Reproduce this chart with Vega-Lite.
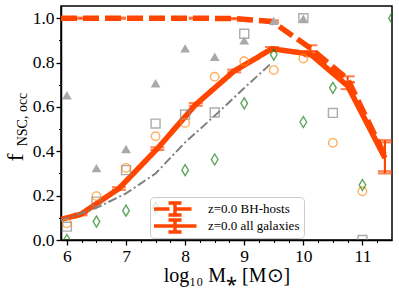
{
  "$schema": "https://vega.github.io/schema/vega-lite/v6.json",
  "width": 331,
  "height": 234,
  "autosize": {"type": "none"},
  "padding": {"left": 61, "top": 6, "right": 7, "bottom": 57},
  "datasets": {
    "sim": [
      {"x": 5.9, "y": 1.0, "s": "z=0.0 BH-hosts"},
      {"x": 6.23, "y": 1.0, "s": "z=0.0 BH-hosts", "lo": 0.997, "hi": 1.003},
      {"x": 6.88, "y": 1.0, "s": "z=0.0 BH-hosts", "lo": 0.997, "hi": 1.003},
      {"x": 7.53, "y": 1.0, "s": "z=0.0 BH-hosts", "lo": 0.997, "hi": 1.003},
      {"x": 8.18, "y": 1.0, "s": "z=0.0 BH-hosts", "lo": 0.997, "hi": 1.003},
      {"x": 8.83, "y": 0.998, "s": "z=0.0 BH-hosts", "lo": 0.995, "hi": 1.001},
      {"x": 9.47, "y": 0.985, "s": "z=0.0 BH-hosts", "lo": 0.98, "hi": 0.99},
      {"x": 10.12, "y": 0.865, "s": "z=0.0 BH-hosts", "lo": 0.852, "hi": 0.878},
      {"x": 10.75, "y": 0.725, "s": "z=0.0 BH-hosts", "lo": 0.712, "hi": 0.738},
      {"x": 11.38, "y": 0.38, "s": "z=0.0 BH-hosts", "lo": 0.31, "hi": 0.45},
      {"x": 5.9, "y": 0.093, "s": "z=0.0 all galaxies"},
      {"x": 6.23, "y": 0.115, "s": "z=0.0 all galaxies", "lo": 0.111, "hi": 0.119},
      {"x": 6.88, "y": 0.232, "s": "z=0.0 all galaxies", "lo": 0.226, "hi": 0.238},
      {"x": 7.53, "y": 0.412, "s": "z=0.0 all galaxies", "lo": 0.406, "hi": 0.418},
      {"x": 8.18, "y": 0.611, "s": "z=0.0 all galaxies", "lo": 0.605, "hi": 0.617},
      {"x": 8.83, "y": 0.762, "s": "z=0.0 all galaxies", "lo": 0.756, "hi": 0.768},
      {"x": 9.47, "y": 0.862, "s": "z=0.0 all galaxies", "lo": 0.854, "hi": 0.87},
      {"x": 10.12, "y": 0.838, "s": "z=0.0 all galaxies", "lo": 0.828, "hi": 0.848},
      {"x": 10.75, "y": 0.695, "s": "z=0.0 all galaxies", "lo": 0.68, "hi": 0.71},
      {"x": 11.38, "y": 0.37, "s": "z=0.0 all galaxies", "lo": 0.3, "hi": 0.44}
    ],
    "grey": [
      {"x": 5.9, "y": 0.088},
      {"x": 6.5, "y": 0.145},
      {"x": 7.0, "y": 0.21},
      {"x": 7.5, "y": 0.3},
      {"x": 8.0, "y": 0.44},
      {"x": 8.5, "y": 0.56},
      {"x": 9.0, "y": 0.685},
      {"x": 9.47, "y": 0.8}
    ],
    "obs": [
      {"x": 6.0, "y": 0.653, "k": "tri"},
      {"x": 6.5, "y": 0.324, "k": "tri"},
      {"x": 7.0, "y": 0.41, "k": "tri"},
      {"x": 7.5, "y": 0.707, "k": "tri"},
      {"x": 8.0, "y": 0.864, "k": "tri"},
      {"x": 8.5, "y": 0.826, "k": "tri"},
      {"x": 9.0, "y": 0.9, "k": "tri"},
      {"x": 9.5, "y": 0.988, "k": "tri"},
      {"x": 10.0, "y": 0.998, "k": "tri"},
      {"x": 6.0, "y": 0.06, "k": "sq"},
      {"x": 6.5, "y": 0.173, "k": "sq"},
      {"x": 7.0, "y": 0.315, "k": "sq"},
      {"x": 7.5, "y": 0.525, "k": "sq"},
      {"x": 8.0, "y": 0.566, "k": "sq"},
      {"x": 8.5, "y": 0.575, "k": "sq"},
      {"x": 9.0, "y": 0.93, "k": "sq"},
      {"x": 10.0, "y": 1.0, "k": "sq"},
      {"x": 10.5, "y": 0.573, "k": "sq"},
      {"x": 11.0, "y": 0.0, "k": "sq"},
      {"x": 6.0, "y": 0.075, "k": "circ"},
      {"x": 6.5, "y": 0.198, "k": "circ"},
      {"x": 7.0, "y": 0.325, "k": "circ"},
      {"x": 7.5, "y": 0.468, "k": "circ"},
      {"x": 8.0, "y": 0.528, "k": "circ"},
      {"x": 8.5, "y": 0.736, "k": "circ"},
      {"x": 9.0, "y": 0.806, "k": "circ"},
      {"x": 9.5, "y": 0.766, "k": "circ"},
      {"x": 10.0, "y": 0.818, "k": "circ"},
      {"x": 10.5, "y": 0.438, "k": "circ"},
      {"x": 11.0, "y": 0.22, "k": "circ"},
      {"x": 6.0, "y": 0.0, "k": "dia"},
      {"x": 6.5, "y": 0.083, "k": "dia"},
      {"x": 7.0, "y": 0.132, "k": "dia"},
      {"x": 7.5, "y": 0.145, "k": "dia"},
      {"x": 8.0, "y": 0.315, "k": "dia"},
      {"x": 8.5, "y": 0.363, "k": "dia"},
      {"x": 9.0, "y": 0.616, "k": "dia"},
      {"x": 9.5, "y": 0.836, "k": "dia"},
      {"x": 10.0, "y": 0.532, "k": "dia"},
      {"x": 10.5, "y": 0.686, "k": "dia"},
      {"x": 11.0, "y": 0.248, "k": "dia"},
      {"x": 11.5, "y": 1.0, "k": "dia"}
    ]
  },
  "layer": [
    {
      "data": {"name": "sim"},
      "mark": {"type": "line", "strokeWidth": 5.5, "color": "#ff4500", "clip": true},
      "encoding": {
        "x": {"field": "x", "type": "quantitative", "scale": {"domain": [5.9, 11.5], "nice": false, "zero": false}, "axis": null},
        "y": {"field": "y", "type": "quantitative", "scale": {"domain": [0, 1.055], "nice": false, "zero": false}, "axis": null},
        "strokeDash": {
          "field": "s", "type": "nominal",
          "scale": {"domain": ["z=0.0 BH-hosts", "z=0.0 all galaxies"], "range": [[16, 6], [1, 0]]},
          "legend": {
            "title": null,
            "orient": "none",
            "legendX": 89,
            "legendY": 191,
            "symbolType": "M-4.3,0H4.3M0,-1.2V1.2M-1.3,-1.2H1.3M-1.3,1.2H1.3",
            "symbolSize": 100,
            "symbolStrokeWidth": 3.5,
            "symbolStrokeColor": "#ff4500",
            "symbolFillColor": "transparent",
            "symbolOffset": 14,
            "clipHeight": 16,
            "labelFont": "Liberation Serif",
            "labelFontSize": 13,
            "labelColor": "black",
            "labelOffset": 26,
            "labelLimit": 300,
            "padding": 4,
            "rowPadding": 1,
            "fillColor": "rgba(255,255,255,0.8)",
            "strokeColor": "#cccccc",
            "cornerRadius": 4
          }
        },
        "order": {"field": "x", "type": "quantitative"}
      }
    },
    {
      "data": {"name": "sim"},
      "transform": [{"filter": "isValid(datum.lo)"}],
      "mark": {"type": "rule", "color": "#ff4500", "strokeWidth": 2},
      "encoding": {
        "x": {"field": "x", "type": "quantitative", "axis": null},
        "y": {"field": "lo", "type": "quantitative", "axis": null},
        "y2": {"field": "hi"}
      }
    },
    {
      "data": {"name": "sim"},
      "transform": [{"filter": "isValid(datum.lo)"}],
      "mark": {"type": "tick", "orient": "horizontal", "color": "#ff4500", "size": 14, "thickness": 2},
      "encoding": {
        "x": {"field": "x", "type": "quantitative", "axis": null},
        "y": {"field": "lo", "type": "quantitative", "axis": null}
      }
    },
    {
      "data": {"name": "sim"},
      "transform": [{"filter": "isValid(datum.lo)"}],
      "mark": {"type": "tick", "orient": "horizontal", "color": "#ff4500", "size": 14, "thickness": 2},
      "encoding": {
        "x": {"field": "x", "type": "quantitative", "axis": null},
        "y": {"field": "hi", "type": "quantitative", "axis": null}
      }
    },
    {
      "data": {"name": "grey"},
      "mark": {"type": "line", "color": "#808080", "strokeWidth": 2, "strokeDash": [9, 3, 2, 3]},
      "encoding": {
        "x": {
          "field": "x", "type": "quantitative",
          "axis": {
            "orient": "bottom",
            "values": [6, 7, 8, 9, 10, 11],
            "format": "d",
            "title": "log₁₀ M⁎ [M⊙]",
            "titleFontSize": 20,
            "titlePadding": 1,
            "labelFontSize": 17.5,
            "labelPadding": 2,
            "tickSize": 5,
            "tickWidth": 1.3
          }
        },
        "y": {
          "field": "y", "type": "quantitative",
          "axis": {
            "orient": "left",
            "values": [0, 0.2, 0.4, 0.6, 0.8, 1.0],
            "format": ".1f",
            "title": "f",
            "titleFontSize": 24,
            "titleAngle": 270,
            "titleAlign": "center",
            "titleBaseline": "alphabetic",
            "titleX": -39,
            "titleY": 151,
            "labelFontSize": 17.5,
            "labelPadding": 2,
            "tickSize": 5,
            "tickWidth": 1.3
          }
        }
      }
    },
    {
      "data": {"name": "obs"},
      "transform": [{"filter": "datum.k == 'sq'"}],
      "mark": {"type": "point", "shape": "square", "filled": false, "stroke": "#8a8a8a", "strokeWidth": 1.4, "size": 80, "clip": true},
      "encoding": {
        "x": {"field": "x", "type": "quantitative", "axis": null},
        "y": {"field": "y", "type": "quantitative", "axis": null}
      }
    },
    {
      "data": {"name": "obs"},
      "transform": [{"filter": "datum.k == 'circ'"}],
      "mark": {"type": "point", "shape": "circle", "filled": false, "stroke": "#ff8c1a", "strokeWidth": 1.4, "size": 72, "clip": true},
      "encoding": {
        "x": {"field": "x", "type": "quantitative", "axis": null},
        "y": {"field": "y", "type": "quantitative", "axis": null}
      }
    },
    {
      "data": {"name": "obs"},
      "transform": [{"filter": "datum.k == 'tri'"}],
      "mark": {"type": "point", "shape": "triangle-up", "filled": true, "color": "#a9a9a9", "opacity": 1, "size": 95, "clip": true},
      "encoding": {
        "x": {
          "field": "x", "type": "quantitative",
          "axis": {
            "orient": "bottom",
            "values": [6.25, 6.5, 6.75, 7.25, 7.5, 7.75, 8.25, 8.5, 8.75, 9.25, 9.5, 9.75, 10.25, 10.5, 10.75, 11.25],
            "labels": false,
            "domain": false,
            "title": null,
            "tickSize": 2.5,
            "tickWidth": 1
          }
        },
        "y": {
          "field": "y", "type": "quantitative",
          "axis": {
            "orient": "left",
            "values": [0.1, 0.3, 0.5, 0.7, 0.9],
            "labels": false,
            "domain": false,
            "tickSize": 2.5,
            "tickWidth": 1,
            "title": "NSC, occ",
            "titleFontSize": 14,
            "titleAngle": 270,
            "titleAlign": "center",
            "titleBaseline": "alphabetic",
            "titleX": -35,
            "titleY": 113
          }
        }
      }
    },
    {
      "data": {"name": "obs"},
      "transform": [{"filter": "datum.k == 'dia'"}],
      "mark": {"type": "point", "shape": "M0,-1L0.6,0L0,1L-0.6,0Z", "filled": false, "stroke": "#1a801a", "strokeWidth": 1.4, "size": 121, "clip": true},
      "encoding": {
        "x": {"field": "x", "type": "quantitative", "axis": null},
        "y": {"field": "y", "type": "quantitative", "axis": null}
      }
    }
  ],
  "resolve": {"axis": {"x": "independent", "y": "independent"}},
  "config": {
    "view": {"stroke": "black", "strokeWidth": 1.5},
    "axis": {
      "grid": false,
      "domainColor": "black",
      "domainWidth": 1.5,
      "tickColor": "black",
      "labelColor": "black",
      "titleColor": "black",
      "labelFont": "Liberation Serif",
      "titleFont": "Liberation Serif",
      "titleFontWeight": "normal"
    }
  }
}
